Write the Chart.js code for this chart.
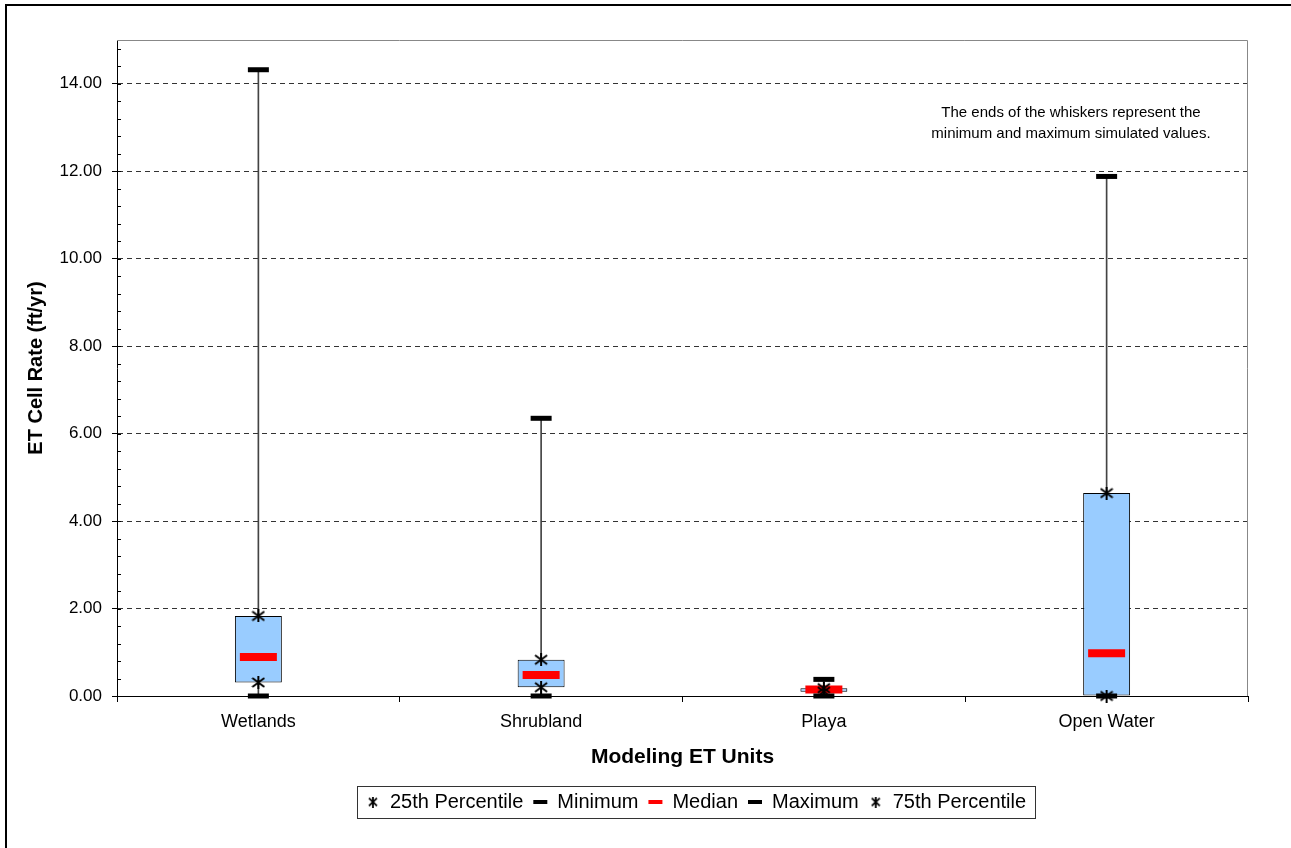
<!DOCTYPE html>
<html>
<head>
<meta charset="utf-8">
<script src="https://cdn.jsdelivr.net/npm/chart.js@4.4.1/dist/chart.umd.min.js"></script>
<style>
  html, body { margin: 0; padding: 0; background: #fff; overflow: hidden; }
  #frame { position: absolute; left: 5px; top: 4px; width: 1400px; height: 1000px; border: 2px solid #000; }
  #chart { position: absolute; left: 0; top: 0; }
</style>
</head>
<body>
<div id="frame"></div>
<canvas id="chart" width="1291" height="848"></canvas>
<script>
// Values (ft/yr)
const categories = ['Wetlands', 'Shrubland', 'Playa', 'Open Water'];
const minimum = [0, 0, 0, 0];
const pct25 = [0.31, 0.2, 0.1, 0];
const median = [0.89, 0.48, 0.15, 0.98];
const pct75 = [1.83, 0.83, 0.18, 4.64];
const maximum = [14.32, 6.35, 0.38, 11.88];

const yMin = 0, yMax = 15, yMajor = 2, yMinor = 0.4;
const noteLines = ['The ends of the whiskers represent the', 'minimum and maximum simulated values.'];

const FONT = 'Arial, "Liberation Sans", sans-serif';

// asterisk-like marker: an X with a vertical stroke
function makeStar(w, h, lw) {
    const c = document.createElement('canvas');
    c.width = w; c.height = h;
    const g = c.getContext('2d');
    g.strokeStyle = '#000';
    g.lineWidth = lw;
    const dy = h * 0.15;
    g.beginPath();
    g.moveTo(1, dy); g.lineTo(w - 1, h - dy);
    g.moveTo(w - 1, dy); g.lineTo(1, h - dy);
    g.moveTo(w / 2, 0); g.lineTo(w / 2, h);
    g.stroke();
    return c;
}
const starBig = makeStar(14, 13, 2);
const starSmall = makeStar(10, 11, 1.8);

function markerSet(label, data, style, color, radius, width) {
    return {
        type: 'line', label, data, showLine: false, clip: false,
        pointStyle: style, pointRadius: radius, pointBorderWidth: width,
        pointBorderColor: color, pointBackgroundColor: color,
        borderColor: color, backgroundColor: color, order: 1
    };
}

const boxAndWhisker = {
    id: 'boxAndWhisker',
    afterUpdate(chart) {
        // legend box is centred a little right of the canvas in the reference
        const l = chart.legend;
        const shift = 696 - (l.left + l.right) / 2;
        l.left += shift; l.right += shift;
        l.legendHitBoxes.forEach(h => h.left += shift);
    },
    beforeDatasetsDraw(chart) {
        const { ctx, chartArea: a } = chart;
        ctx.save();
        ctx.strokeStyle = '#888';
        ctx.lineWidth = 1;
        ctx.beginPath();
        ctx.moveTo(a.left, a.top + 0.5);
        ctx.lineTo(a.right - 0.5, a.top + 0.5);
        ctx.lineTo(a.right - 0.5, a.bottom);
        ctx.stroke();
        ctx.restore();
    },
    afterDraw(chart) {
        const { ctx, chartArea: a, scales: { y } } = chart;
        ctx.save();
        // minor ticks inside the y axis
        ctx.strokeStyle = '#000';
        ctx.lineWidth = 1;
        ctx.beginPath();
        for (let i = 1; i * yMinor < yMax; i++) {
            const py = Math.round(y.getPixelForValue(i * yMinor)) + 0.5;
            ctx.moveTo(a.left, py);
            ctx.lineTo(a.left + 4, py);
        }
        ctx.stroke();

        // note text
        ctx.fillStyle = '#000';
        ctx.font = '15px ' + FONT;
        ctx.textAlign = 'center';
        ctx.textBaseline = 'middle';
        ctx.fillText(noteLines[0], 1071, 113);
        ctx.fillText(noteLines[1], 1071, 134);

        // legend frame
        const hb = chart.legend.legendHitBoxes;
        if (hb.length) {
            const left = Math.min(...hb.map(h => h.left)) - 9;
            const right = Math.max(...hb.map(h => h.left + h.width)) + 9;
            const top = hb[0].top - 6, bottom = hb[0].top + hb[0].height + 6;
            ctx.strokeStyle = '#333';
            ctx.strokeRect(Math.round(left) + 0.5, Math.round(top) + 0.5, Math.round(right - left), Math.round(bottom - top));
        }
        ctx.restore();
    }
};

new Chart(document.getElementById('chart'), {
    type: 'bar',
    data: {
        labels: categories,
        datasets: [
            Object.assign(markerSet('25th Percentile', pct25, starBig, '#000', 6, 0), { order: 0 }),
            markerSet('Minimum', minimum, 'line', '#000', 10.5, 5),
            markerSet('Median', median, 'line', '#ff0000', 18.5, 8),
            markerSet('Maximum', maximum, 'line', '#000', 10.5, 5),
            Object.assign(markerSet('75th Percentile', pct75, starBig, '#000', 6, 0), { order: 0 }),
            {
                label: 'box', data: categories.map((c, i) => [pct25[i], pct75[i]]),
                backgroundColor: '#99ccff', borderColor: '#000', borderWidth: 1, borderSkipped: false,
                categoryPercentage: 1, barPercentage: 0.166, order: 5
            },
            {
                label: 'whisker', data: categories.map((c, i) => [minimum[i], maximum[i]]),
                backgroundColor: '#444', borderWidth: 0, barThickness: 1, grouped: false, order: 6
            }
        ]
    },
    options: {
        responsive: false,
        animation: false,
        events: [],
        layout: { padding: { left: 0, right: 43, top: 40, bottom: 26 } },
        plugins: {
            tooltip: { enabled: false },
            legend: {
                position: 'bottom',
                labels: {
                    usePointStyle: true,
                    pointStyleWidth: 14,
                    boxHeight: 12,
                    padding: 10,
                    color: '#000',
                    font: { family: FONT, size: 20 },
                    sort: (a, b) => a.datasetIndex - b.datasetIndex,
                    generateLabels(chart) {
                        const items = Chart.defaults.plugins.legend.labels.generateLabels(chart);
                        return items.filter(it => it.datasetIndex < 5).map(it => {
                            if (it.pointStyle === 'line') it.lineWidth = 4;
                            else it.pointStyle = starSmall;
                            return it;
                        });
                    }
                }
            }
        },
        scales: {
            x: {
                afterFit(s) { s.height = 86; },
                grid: { drawOnChartArea: false, drawTicks: true, tickLength: 6, color: '#000', offset: true },
                border: { color: '#000', width: 1 },
                ticks: { color: '#000', padding: 9, font: { family: FONT, size: 18 } },
                title: {
                    display: true, text: 'Modeling ET Units', color: '#000',
                    font: { family: FONT, size: 21, weight: 'bold' },
                    padding: { top: 0, bottom: 12 }
                }
            },
            y: {
                min: yMin, max: yMax,
                afterFit(s) { s.width = 117; },
                grid: {
                    color: ctx => ctx.tick && ctx.tick.value === 0 ? 'rgba(0,0,0,0)' : '#333',
                    tickColor: '#000', tickLength: 5, lineWidth: 1
                },
                border: { color: '#000', width: 1, dash: [5, 4] },
                ticks: {
                    stepSize: yMajor, includeBounds: false, color: '#000', padding: 10,
                    font: { family: FONT, size: 17 },
                    callback: v => v.toFixed(2)
                },
                title: {
                    display: true, text: 'ET Cell Rate (ft/yr)', color: '#000',
                    font: { family: FONT, size: 20, weight: 'bold' },
                    padding: { top: 24, bottom: 0 }
                }
            }
        }
    },
    plugins: [boxAndWhisker]
});
</script>
</body>
</html>
